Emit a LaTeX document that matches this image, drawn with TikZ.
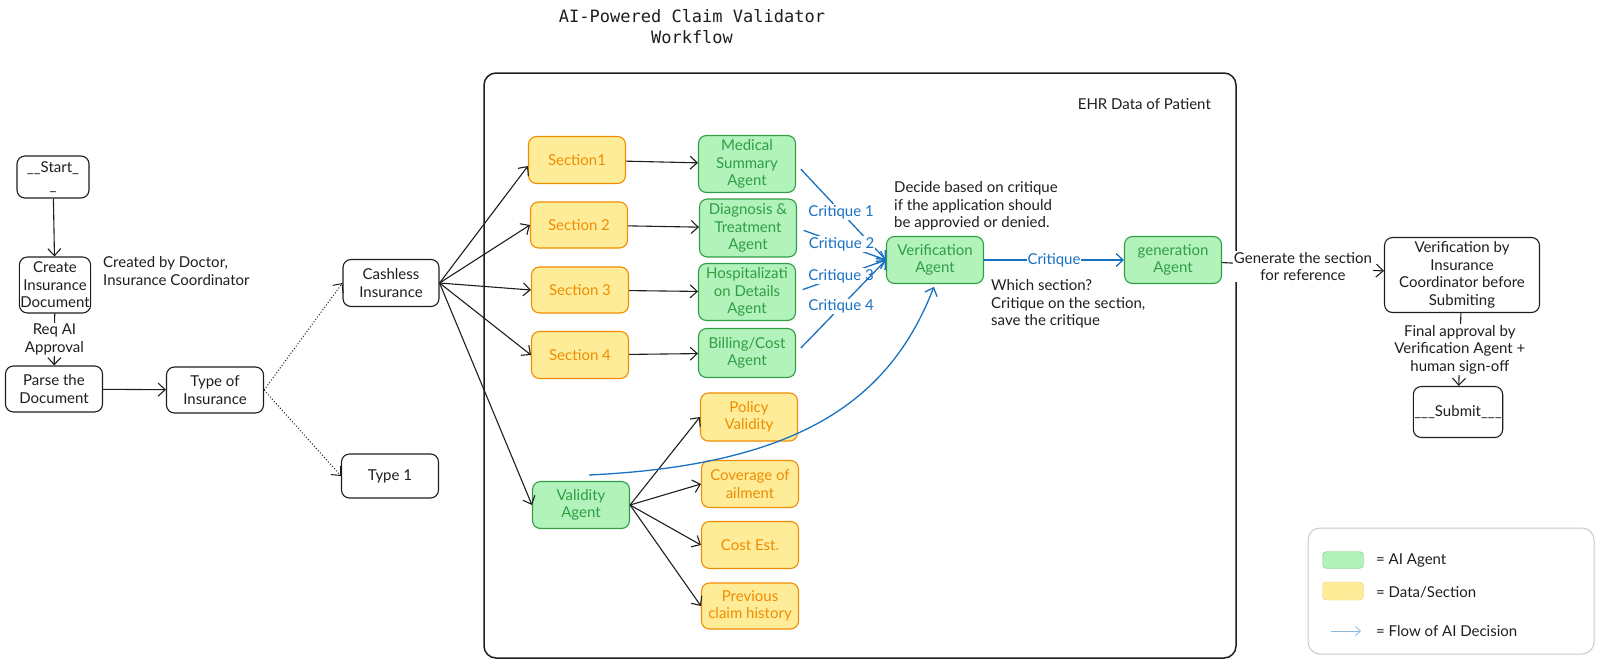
\documentclass[tikz,border=0pt]{standalone}
\usepackage{fontspec}
\setmainfont{Lato}
\newfontfamily\titlefont{DejaVu Sans Mono}
\usetikzlibrary{arrows.meta}
\definecolor{inkc}{HTML}{1E1E1E}
\definecolor{agentfill}{HTML}{B2F2BB}
\definecolor{agentline}{HTML}{2F9E44}
\definecolor{datafill}{HTML}{FFEC99}
\definecolor{dataline}{HTML}{F08C00}
\definecolor{flowblue}{HTML}{1971C2}
\definecolor{legendline}{HTML}{C8C8C8}
\tikzset{
  every node/.style={font=\fontsize{15}{17.5}\selectfont, text=inkc},
  plainbox/.style={draw=inkc, line width=1.1pt, rounded corners=8pt, fill=white, align=center, inner sep=1pt},
  agentbox/.style={draw=agentline, line width=1.1pt, rounded corners=8pt, fill=agentfill, text=agentline, align=center, inner sep=1pt, minimum width=97pt},
  databox/.style={draw=dataline, line width=1.1pt, rounded corners=8pt, fill=datafill, text=dataline, align=center, inner sep=1pt, minimum width=97pt},
  arr/.style={draw=inkc, line width=1.1pt, -{Straight Barb[length=7pt,width=13pt]}},
  dotarr/.style={draw=inkc, line width=1pt, dotted, -{Straight Barb[length=7pt,width=13pt]}},
  flow/.style={draw=flowblue, line width=1.3pt, -{Straight Barb[length=7pt,width=13pt]}},
  lbl/.style={fill=white, inner sep=1pt, align=center},
  flowlbl/.style={fill=white, inner sep=1pt, text=flowblue},
  note/.style={align=left, anchor=west, inner sep=0pt}
}
\begin{document}
\begin{tikzpicture}[x=1pt,y=-1pt]
\useasboundingbox (0,0) rectangle (1600,664);
% title
\node[font=\titlefont\fontsize{17}{21}\selectfont, align=center] (title) at (692,27) {AI-Powered Claim Validator\\Workflow};
% container
\draw[inkc, line width=1.5pt, rounded corners=12pt] (484,73) rectangle (1236,658);
\node[anchor=east, inner sep=0pt] (ehr) at (1211,104) {EHR Data of Patient};
% left column
\node[plainbox, minimum width=72pt, minimum height=42pt] (start) at (53,177) {\_\_Start\_\\\_};
\node[plainbox, minimum width=71pt, minimum height=56pt] (create) at (55,285) {Create\\Insurance\\Document};
\node[note] (creatednote) at (103,271) {Created by Doctor,\\Insurance Coordinator};
\node[plainbox, minimum width=97pt, minimum height=46pt] (parse) at (54,389) {Parse the\\Document};
\node[plainbox, minimum width=97pt, minimum height=46pt] (type) at (215,390) {Type of\\Insurance};
\node[plainbox, minimum width=96pt, minimum height=47pt] (cashless) at (391,283) {Cashless\\Insurance};
\node[plainbox, minimum width=97pt, minimum height=44pt] (type1) at (390,476) {Type 1};
% sections
\node[databox, minimum height=47pt] (sec1) at (577,160) {Section1};
\node[databox, minimum height=46pt] (sec2) at (579,225) {Section 2};
\node[databox, minimum height=46pt] (sec3) at (580,290) {Section 3};
\node[databox, minimum height=47pt] (sec4) at (580,355) {Section 4};
% agents
\node[agentbox, minimum height=57pt] (med) at (747,164) {Medical\\Summary\\Agent};
\node[agentbox, minimum height=58pt] (diag) at (748,228) {Diagnosis \&\\Treatment\\Agent};
\node[agentbox, minimum height=57pt] (hosp) at (747,292) {Hospitalizati\\on Details\\Agent};
\node[agentbox, minimum height=49pt] (bill) at (747,353) {Billing/Cost\\Agent};
\node[agentbox, minimum height=47pt] (valid) at (581,505) {Validity\\Agent};
% validity data
\node[databox, minimum height=48pt] (policy) at (749,417) {Policy\\Validity};
\node[databox, minimum height=47pt] (coverage) at (750,484) {Coverage of\\ailment};
\node[databox, minimum height=47pt] (cost) at (750,545) {Cost Est.};
\node[databox, minimum height=46pt] (prev) at (750,606) {Previous\\claim history};
% verification + generation
\node[agentbox, minimum height=47pt] (verif) at (935,260) {Verification\\Agent};
\node[agentbox, minimum height=47pt] (gen) at (1173,260) {generation\\Agent};
\node[note] (decide) at (894,206) {Decide based on critique\\if the application should\\be approvied or denied.};
\node[note] (which) at (991,304) {Which section?\\Critique on the section,\\save the critique};
% right column
\node[plainbox, minimum width=155pt, minimum height=75pt] (vic) at (1462,275) {Verification by\\Insurance\\Coordinator before\\Submiting};
\node[plainbox, minimum width=88pt, minimum height=51pt] (submit) at (1458,412) {\_\_\_Submit\_\_\_};
% connectors
\draw[arr] (start) -- (create);
\draw[arr] (create) -- node[lbl] {Req AI\\Approval} (parse);
\draw[arr] (parse) -- (type);
\draw[dotarr] (type.east) -- (cashless.west);
\draw[dotarr] (type.east) -- (type1.west);
\draw[arr] (cashless.east) -- ([yshift=-6pt]sec1.west);
\draw[arr] (cashless.east) -- (sec2.west);
\draw[arr] (cashless.east) -- (sec3.west);
\draw[arr] (cashless.east) -- (sec4.west);
\draw[arr] (cashless.east) -- (valid.west);
\draw[arr] (sec1) -- (med);
\draw[arr] (sec2) -- (diag);
\draw[arr] (sec3) -- (hosp);
\draw[arr] (sec4) -- (bill);
\draw[arr] (valid.east) -- (policy.west);
\draw[arr] (valid.east) -- (coverage.west);
\draw[arr] (valid.east) -- (cost.west);
\draw[arr] (valid.east) -- (prev.west);
\draw[flow, shorten <=7pt] (med.east) -- node[flowlbl] {Critique 1} (verif.west);
\draw[flow, shorten <=7pt] (diag.east) -- node[flowlbl] {Critique 2} (verif.west);
\draw[flow, shorten <=7pt] (hosp.east) -- node[flowlbl] {Critique 3} (verif.west);
\draw[flow, shorten <=7pt] (bill.east) -- node[flowlbl] {Critique 4} (verif.west);
\draw[flow] (verif) -- node[flowlbl] {Critique} (gen);
\coordinate (curvestart) at (589,475);
\draw[flow, shorten >=3pt] (curvestart) .. controls (800,465) and (890,400) .. (verif.south);
\draw[arr] (gen) -- node[lbl] {Generate the section\\for reference} (vic);
\draw[arr] (vic) -- node[lbl] {Final approval by\\Verification Agent +\\human sign-off} (submit);
% legend
\draw[legendline, line width=1pt, rounded corners=12pt] (1308,528) rectangle (1594,654);
\node[draw=agentline!60, fill=agentfill, rounded corners=4pt, minimum width=41pt, minimum height=17pt, inner sep=0pt] (lgagent) at (1343,560) {};
\node[draw=dataline!50, fill=datafill, rounded corners=4pt, minimum width=41pt, minimum height=18pt, inner sep=0pt] (lgdata) at (1343,591) {};
\node[note] (lgagenttxt) at (1376,560) {= AI Agent};
\node[note] (lgdatatxt) at (1376,592) {= Data/Section};
\coordinate (lgflowa) at (1331,631);
\coordinate (lgflowb) at (1361,631);
\draw[draw=flowblue!50, line width=0.8pt, -{Straight Barb[length=5pt,width=9pt]}] (lgflowa) -- (lgflowb);
\node[note] (lgflowtxt) at (1376,631) {= Flow of AI Decision};
\end{tikzpicture}
\end{document}
